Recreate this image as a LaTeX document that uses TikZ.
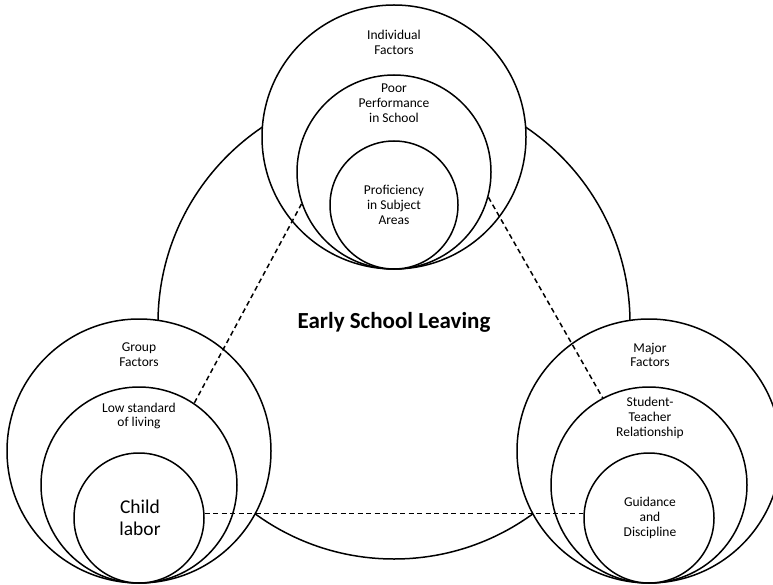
\documentclass[tikz,border=0pt]{standalone}
\usepackage{fontspec}
\setmainfont{Carlito}
\begin{document}
\begin{tikzpicture}[x=1pt,y=-1pt,
  ring/.style={circle,draw=black,fill=white,line width=1.5pt,inner sep=0pt},
  link/.style={draw=black,line width=1.5pt,dash pattern=on 5pt off 3.5pt},
  lbl/.style={align=center,text=black,font=\fontsize{13.5}{14.8}\selectfont,inner sep=0pt},
  biglbl/.style={align=center,text=black,font=\fontsize{19.5}{22}\selectfont,inner sep=0pt}]
\useasboundingbox (0,0) rectangle (773,585);
\clip (0,0) rectangle (773,585);
% central circle
\node[ring,minimum size=472pt] (core) at (394,323) {};
% top group
\node[ring,minimum size=264pt] (topout) at (394,137) {};
\node[ring,minimum size=194pt] (topmid) at (394,172) {};
\node[ring,minimum size=128pt] (topin) at (394,205) {};
% left group
\node[ring,minimum size=264pt] (leftout) at (139,451) {};
\node[ring,minimum size=196pt] (leftmid) at (139,485) {};
\node[ring,minimum size=130pt] (leftin) at (139,518) {};
% right group
\node[ring,minimum size=264pt] (rightout) at (649,451) {};
\node[ring,minimum size=196pt] (rightmid) at (649,485) {};
\node[ring,minimum size=130pt] (rightin) at (649,518) {};
% dashed links
\draw[link] (topmid.199) -- (leftmid.56);
\draw[link] (topmid.345) -- (rightmid.118);
\draw[link] (leftin.4) -- (rightin.176);
% texts
\node[lbl] (t1) at (394,42) {Individual\\Factors};
\node[lbl] (t2) at (394,103) {Poor\\Performance\\in School};
\node[lbl] (t3) at (394,205) {Proficiency\\in Subject\\Areas};
\node[lbl] (l1) at (139,355) {Group\\Factors};
\node[lbl] (l2) at (139,416) {Low standard\\of living};
\node[biglbl] (l3) at (140,518) {Child\\labor};
\node[lbl] (r1) at (650,355) {Major\\Factors};
\node[lbl] (r2) at (650,418) {Student-\\Teacher\\Relationship};
\node[lbl] (r3) at (650,518) {Guidance\\and\\Discipline};
\node[align=center,text=black,font=\fontsize{23}{27}\selectfont\bfseries,inner sep=0pt] (title) at (394,322) {Early School Leaving};
\end{tikzpicture}
\end{document}
